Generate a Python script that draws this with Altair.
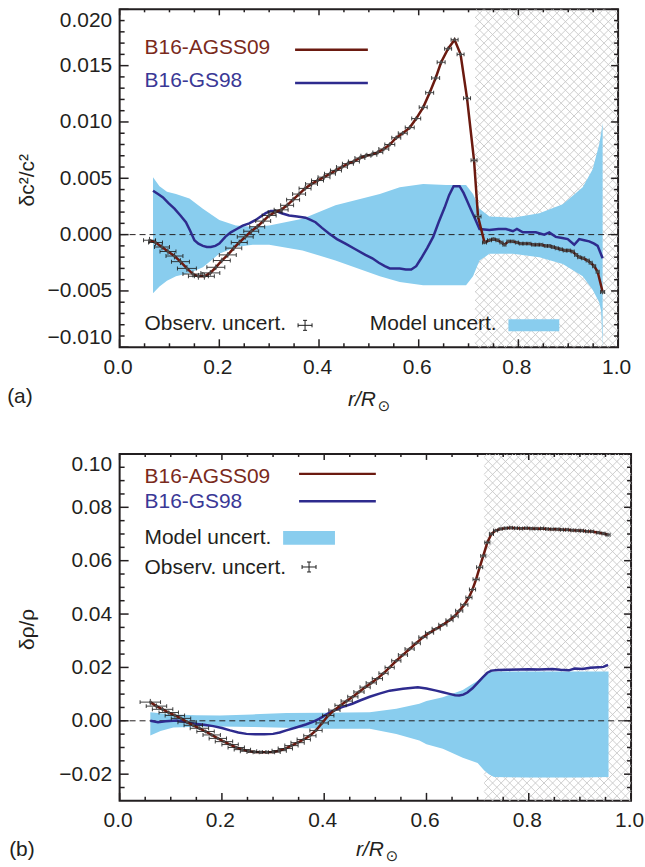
import altair as alt
import numpy as np
import pandas as pd

FONT = "Liberation Sans"
INK = "#231f20"
RED = "#6b1a10"
RED_TXT = "#7a2a1c"
BLUE = "#2e2b8e"
BLUE_TXT = "#3a3896"
BAND = "#89cdee"
HATCH = "#c8c8c8"
BAR = "#1e1e1e"
CZ = 0.713  # base of the convective envelope, hatched beyond

# ---------------- panel (a): sound speed ----------------
a_r = [0.060, 0.072, 0.085, 0.097, 0.110, 0.122, 0.135, 0.147, 0.158, 0.170,
       0.182, 0.193, 0.205, 0.217, 0.229, 0.240, 0.252, 0.264, 0.276, 0.288,
       0.300, 0.312, 0.324, 0.336, 0.348, 0.360, 0.372, 0.385, 0.397, 0.410,
       0.422, 0.434, 0.446, 0.458, 0.470, 0.482, 0.494, 0.506, 0.518, 0.530,
       0.542, 0.555, 0.568, 0.582, 0.595, 0.609, 0.622, 0.634, 0.645, 0.659,
       0.672, 0.684, 0.697, 0.711, 0.719,
       0.732, 0.742, 0.750, 0.758, 0.766, 0.772, 0.780, 0.788, 0.797, 0.805,
       0.813, 0.822, 0.830, 0.838, 0.846, 0.855, 0.862, 0.869, 0.877, 0.885,
       0.893, 0.901, 0.909, 0.916, 0.922, 0.930, 0.939, 0.945, 0.952, 0.959,
       0.969]
a_agss = [-0.0005, -0.0007, -0.0011, -0.0015, -0.0019, -0.0024, -0.0030, -0.0035, -0.0037, -0.0037,
          -0.0034, -0.0029, -0.0023, -0.0018, -0.0012, -0.0007, -0.0002, 0.0003, 0.0007, 0.0012,
          0.0017, 0.0020, 0.0022, 0.0026, 0.0031, 0.0036, 0.0041, 0.0045, 0.0048, 0.0051,
          0.0054, 0.0057, 0.0060, 0.0063, 0.0065, 0.0068, 0.0070, 0.0071, 0.0073, 0.0076,
          0.0080, 0.0086, 0.0090, 0.0095, 0.0103, 0.0113, 0.0126, 0.0139, 0.0153, 0.0165,
          0.0173, 0.0160, 0.0121, 0.0066, 0.0016,
          -0.0007, -0.0005, -0.0004, -0.0005, -0.0007, -0.0009, -0.0006, -0.0006, -0.0007, -0.0008,
          -0.0008, -0.0008, -0.0009, -0.0009, -0.0009, -0.0010, -0.0010, -0.0011, -0.0012, -0.0013,
          -0.0014, -0.0014, -0.0015, -0.0018, -0.0020, -0.0021, -0.0023, -0.0025, -0.0028, -0.0033,
          -0.0051]
a_xerr = [0.012, 0.014, 0.015, 0.016, 0.017, 0.018, 0.019, 0.020, 0.020, 0.020,
          0.019, 0.018, 0.017, 0.017, 0.016, 0.016, 0.016, 0.015, 0.015, 0.015,
          0.014, 0.014, 0.014, 0.013, 0.013, 0.013, 0.012, 0.012, 0.012, 0.012,
          0.011, 0.011, 0.011, 0.011, 0.011, 0.010, 0.010, 0.010, 0.010, 0.010,
          0.010, 0.009, 0.009, 0.009, 0.009, 0.008, 0.008, 0.008, 0.008, 0.007,
          0.007, 0.007, 0.007, 0.006, 0.006,
          0.004, 0.004, 0.003, 0.003, 0.003, 0.003, 0.003, 0.003, 0.003, 0.003,
          0.003, 0.003, 0.003, 0.003, 0.003, 0.003, 0.003, 0.003, 0.003, 0.003,
          0.003, 0.003, 0.003, 0.003, 0.003, 0.003, 0.003, 0.003, 0.003, 0.003,
          0.004]
a_yerr = [0.0003, 0.0003, 0.0003, 0.0003, 0.0003, 0.0003, 0.0003, 0.0003, 0.0003, 0.0003,
          0.00025, 0.00025, 0.00025, 0.00025, 0.00025, 0.00025, 0.00025, 0.00025, 0.00025, 0.00025,
          0.00025, 0.00025, 0.00025, 0.00025, 0.00025, 0.00025, 0.00025, 0.00025, 0.00025, 0.00025,
          0.0002, 0.0002, 0.0002, 0.0002, 0.0002, 0.0002, 0.0002, 0.0002, 0.0002, 0.0002,
          0.0002, 0.0002, 0.0002, 0.0002, 0.0002, 0.0002, 0.0002, 0.0002, 0.0002, 0.0002,
          0.0002, 0.0002, 0.0002, 0.0002, 0.0002,
          0.00015, 0.00015, 0.00015, 0.00015, 0.00015, 0.00015, 0.00015, 0.00015, 0.00015, 0.00015,
          0.00015, 0.00015, 0.00015, 0.00015, 0.00015, 0.00015, 0.00015, 0.00015, 0.00015, 0.00015,
          0.00015, 0.00015, 0.00015, 0.00015, 0.00015, 0.00015, 0.00015, 0.00015, 0.00015, 0.00015,
          0.0002]

a_gs_r = [0.067, 0.077, 0.087, 0.098, 0.110, 0.122, 0.133, 0.142, 0.150, 0.158,
          0.167, 0.175, 0.183, 0.192, 0.200, 0.212, 0.223, 0.235, 0.247, 0.260,
          0.273, 0.283, 0.293, 0.303, 0.313, 0.325, 0.340, 0.356, 0.373, 0.383,
          0.393, 0.406, 0.420, 0.436, 0.453, 0.473, 0.493, 0.507, 0.520, 0.532,
          0.542, 0.552, 0.562, 0.574, 0.585, 0.595, 0.605, 0.617, 0.629, 0.640,
          0.652, 0.661, 0.670, 0.682, 0.690, 0.697, 0.704, 0.711, 0.722, 0.742,
          0.760, 0.775, 0.789, 0.797, 0.809, 0.822, 0.835, 0.852, 0.862, 0.875,
          0.888, 0.899, 0.912, 0.922, 0.932, 0.942, 0.952, 0.959, 0.969]
a_gs = [0.0039, 0.0036, 0.0033, 0.0028, 0.0023, 0.0017, 0.0011, 0.0003, -0.0005, -0.0008,
        -0.0010, -0.0011, -0.0011, -0.0010, -0.0008, -0.0002, 0.0002, 0.0005, 0.0008, 0.0010,
        0.0013, 0.0016, 0.0019, 0.0021, 0.0021, 0.0019, 0.0017, 0.0016, 0.0015, 0.0013,
        0.0011, 0.0006, 0.0001, -0.0004, -0.0008, -0.0013, -0.0018, -0.0021, -0.0025, -0.0028,
        -0.0030, -0.0030, -0.0030, -0.0031, -0.0031, -0.0028, -0.0021, -0.0012, -0.0002, 0.0011,
        0.0024, 0.0035, 0.0043, 0.0043, 0.0037, 0.0030, 0.0023, 0.0016, 0.0005, 0.0004,
        0.0005, 0.0005, 0.0003, 0.0005, 0.0002, 0.0002, 0.0002, 0.0000, 0.0002, -0.0002,
        -0.0003, -0.0004, -0.0009, -0.0004, -0.0005, -0.0006, -0.0008, -0.0010, -0.0021]

a_band_r = [0.067, 0.080, 0.095, 0.113, 0.140, 0.167, 0.200, 0.233, 0.267, 0.300,
            0.367, 0.433, 0.522, 0.562, 0.609, 0.655, 0.695, 0.709, 0.722, 0.742,
            0.789, 0.842, 0.889, 0.929, 0.949, 0.962, 0.966, 0.969]
a_band_hi = [0.0051, 0.0043, 0.0038, 0.0036, 0.0032, 0.0023, 0.0013, 0.0008, 0.0007, 0.0008,
             0.0014, 0.0026, 0.0036, 0.0042, 0.0045, 0.0044, 0.0044, 0.0036, 0.0023, 0.0016,
             0.0015, 0.0019, 0.0027, 0.0042, 0.0058, 0.0080, 0.0090, 0.0099]
a_band_lo = [-0.0052, -0.0046, -0.0041, -0.0037, -0.0034, -0.0029, -0.0017, -0.0011, -0.0009, -0.0009,
             -0.0014, -0.0023, -0.0037, -0.0042, -0.0045, -0.0045, -0.0045, -0.0037, -0.0023, -0.0017,
             -0.0017, -0.0020, -0.0026, -0.0037, -0.0049, -0.0060, -0.0068, -0.0100]

# ---------------- panel (b): density ----------------
b_r = [0.060, 0.072, 0.084, 0.096, 0.108, 0.120, 0.132, 0.144, 0.156, 0.168,
       0.180, 0.192, 0.204, 0.216, 0.228, 0.240, 0.252, 0.264, 0.276, 0.288,
       0.300, 0.312, 0.324, 0.336, 0.348, 0.360, 0.372, 0.384, 0.396, 0.408,
       0.420, 0.432, 0.444, 0.456, 0.468, 0.480, 0.492, 0.504, 0.516, 0.528,
       0.541, 0.554, 0.567, 0.580, 0.593, 0.606, 0.619, 0.632, 0.645, 0.655,
       0.664, 0.674, 0.683, 0.690, 0.697, 0.704, 0.711, 0.719, 0.727, 0.735,
       0.745, 0.755, 0.765, 0.775, 0.785, 0.795, 0.805, 0.815, 0.826, 0.836,
       0.846, 0.856, 0.865, 0.875, 0.885, 0.895, 0.904, 0.914, 0.924, 0.936,
       0.946, 0.955]
b_agss = [0.0070, 0.0055, 0.0043, 0.0031, 0.0020, 0.0009, -0.0005, -0.0017, -0.0028, -0.0040,
          -0.0053, -0.0066, -0.0078, -0.0089, -0.0100, -0.0108, -0.0114, -0.0117, -0.0118, -0.0118,
          -0.0117, -0.0112, -0.0104, -0.0093, -0.0082, -0.0070, -0.0056, -0.0036, -0.0008, 0.0020,
          0.0040, 0.0058, 0.0074, 0.0090, 0.0108, 0.0126, 0.0142, 0.0158, 0.0178, 0.0200,
          0.0225, 0.0247, 0.0269, 0.0291, 0.0313, 0.0330, 0.0345, 0.0360, 0.0377, 0.0392,
          0.0412, 0.0435, 0.0462, 0.0492, 0.0530, 0.0575, 0.0618, 0.0668, 0.0700, 0.0713,
          0.0719, 0.0722, 0.0723, 0.0722, 0.0721, 0.0722, 0.0721, 0.0720, 0.0721, 0.0719,
          0.0718, 0.0718, 0.0716, 0.0716, 0.0714, 0.0713, 0.0712, 0.0710, 0.0709, 0.0705,
          0.0702, 0.0697]
b_xerr = [0.020, 0.020, 0.020, 0.019, 0.019, 0.019, 0.018, 0.018, 0.018, 0.017,
          0.017, 0.017, 0.017, 0.016, 0.016, 0.016, 0.016, 0.015, 0.015, 0.015,
          0.014, 0.014, 0.014, 0.013, 0.013, 0.013, 0.012, 0.012, 0.012, 0.011,
          0.011, 0.011, 0.011, 0.010, 0.010, 0.010, 0.010, 0.010, 0.009, 0.009,
          0.009, 0.009, 0.009, 0.008, 0.008, 0.008, 0.008, 0.008, 0.007, 0.007,
          0.007, 0.007, 0.006, 0.006, 0.006, 0.006, 0.005, 0.005, 0.004, 0.004,
          0.003, 0.003, 0.003, 0.003, 0.003, 0.003, 0.003, 0.003, 0.003, 0.003,
          0.003, 0.003, 0.003, 0.003, 0.003, 0.003, 0.003, 0.003, 0.003, 0.003,
          0.003, 0.004]
b_yerr = [0.0012, 0.0010, 0.0009, 0.0008, 0.0008, 0.0007, 0.0007, 0.0007, 0.0007, 0.0007,
          0.0006, 0.0006, 0.0006, 0.0006, 0.0006, 0.0006, 0.0006, 0.0006, 0.0006, 0.0006,
          0.0006, 0.0006, 0.0006, 0.0006, 0.0006, 0.0006, 0.0006, 0.0006, 0.0006, 0.0006,
          0.0006, 0.0006, 0.0006, 0.0006, 0.0006, 0.0006, 0.0006, 0.0006, 0.0006, 0.0006,
          0.0006, 0.0006, 0.0006, 0.0006, 0.0006, 0.0006, 0.0006, 0.0006, 0.0006, 0.0006,
          0.0006, 0.0006, 0.0006, 0.0006, 0.0006, 0.0006, 0.0006, 0.0006, 0.0006, 0.0006,
          0.0005, 0.0005, 0.0005, 0.0005, 0.0005, 0.0005, 0.0005, 0.0005, 0.0005, 0.0005,
          0.0005, 0.0005, 0.0005, 0.0005, 0.0005, 0.0005, 0.0005, 0.0005, 0.0005, 0.0006,
          0.0006, 0.0008]

b_gs_r = [0.060, 0.075, 0.090, 0.112, 0.130, 0.145, 0.165, 0.183, 0.200, 0.216,
          0.232, 0.248, 0.265, 0.283, 0.300, 0.313, 0.326, 0.345, 0.364, 0.378,
          0.390, 0.403, 0.416, 0.435, 0.455, 0.470, 0.489, 0.508, 0.528, 0.554,
          0.583, 0.600, 0.619, 0.632, 0.645, 0.656, 0.664, 0.672, 0.680, 0.690,
          0.700, 0.710, 0.719, 0.727, 0.740, 0.760, 0.781, 0.800, 0.820, 0.846,
          0.862, 0.878, 0.890, 0.905, 0.920, 0.936, 0.946, 0.955]
b_gs = [0.0000, -0.0005, -0.0002, 0.0001, -0.0005, -0.0011, -0.0015, -0.0020, -0.0027, -0.0036,
        -0.0044, -0.0049, -0.0050, -0.0050, -0.0049, -0.0044, -0.0036, -0.0025, -0.0014, -0.0004,
        0.0007, 0.0022, 0.0036, 0.0051, 0.0064, 0.0076, 0.0090, 0.0102, 0.0113, 0.0120,
        0.0126, 0.0121, 0.0113, 0.0107, 0.0101, 0.0096, 0.0095, 0.0098, 0.0106, 0.0122,
        0.0142, 0.0163, 0.0180, 0.0188, 0.0190, 0.0191, 0.0192, 0.0193, 0.0192, 0.0194,
        0.0191, 0.0189, 0.0196, 0.0194, 0.0199, 0.0201, 0.0202, 0.0210]

b_band_r = [0.060, 0.080, 0.105, 0.150, 0.196, 0.260, 0.326, 0.400, 0.489, 0.541,
            0.586, 0.600, 0.632, 0.671, 0.700, 0.713, 0.722, 0.732, 0.800, 0.900,
            0.956]
b_band_hi = [0.0032, 0.0028, 0.0024, 0.0021, 0.0020, 0.0024, 0.0029, 0.0030, 0.0032, 0.0045,
             0.0064, 0.0074, 0.0088, 0.0115, 0.0150, 0.0172, 0.0185, 0.0185, 0.0185, 0.0185,
             0.0185]
b_band_lo = [-0.0055, -0.0038, -0.0025, -0.0022, -0.0021, -0.0023, -0.0026, -0.0030, -0.0030, -0.0049,
             -0.0074, -0.0088, -0.0105, -0.0138, -0.0158, -0.0186, -0.0200, -0.0211, -0.0212, -0.0212,
             -0.0211]

for a, b in [(a_r, a_agss), (a_r, a_xerr), (a_r, a_yerr), (a_gs_r, a_gs),
             (a_band_r, a_band_hi), (a_band_r, a_band_lo), (b_r, b_agss), (b_r, b_xerr),
             (b_r, b_yerr), (b_gs_r, b_gs), (b_band_r, b_band_hi), (b_band_r, b_band_lo)]:
    assert len(a) == len(b), (len(a), len(b))

X_MAJOR = [0.0, 0.2, 0.4, 0.6, 0.8, 1.0]
X_MINOR = [0.05, 0.1, 0.15, 0.25, 0.3, 0.35, 0.45, 0.5, 0.55, 0.65, 0.7, 0.75, 0.85, 0.9, 0.95]

one = pd.DataFrame({"k": [0]})


def hatch_frame(W, H, ydom, step=8.6):
    """Cross-hatch segments covering r >= CZ, expressed in data units."""
    xp0 = CZ * W
    rows = []
    for c in np.arange(-W - H, W + H + step, step):
        lo, hi = max(xp0, -c), min(W, H - c)          # y = x + c
        if hi > lo:
            rows.append((lo, lo + c, hi, hi + c))
        lo, hi = max(xp0, c - H), min(W, c)           # y = -x + c
        if hi > lo:
            rows.append((lo, c - lo, hi, c - hi))
    d = pd.DataFrame(rows, columns=["px1", "py1", "px2", "py2"])
    y0, y1 = ydom
    return pd.DataFrame({
        "x1": d.px1 / W, "x2": d.px2 / W,
        "y1": y1 - d.py1 / H * (y1 - y0), "y2": y1 - d.py2 / H * (y1 - y0),
    })


def panel(W, H, ydom, ymajor, yminor, yfmt, r, agss, xerr, yerr, gs_r, gs,
          band_r, band_hi, band_lo, legend, ytitle, tag, tag_xy, rr_xy):
    xs = alt.Scale(domain=[0, 1], nice=False, zero=False)
    ys = alt.Scale(domain=ydom, nice=False, zero=False)
    xax = alt.Axis(values=X_MAJOR, format=".1f", title=None, ticks=False, domain=False,
                   grid=False, labelFont=FONT, labelFontSize=21, labelColor=INK,
                   labelPadding=9, labelOffset=-2, labelFlush=False, labelOverlap=False)
    yax = alt.Axis(values=ymajor, format=yfmt, title=None, ticks=False, domain=False,
                   grid=False, labelFont=FONT, labelFontSize=21, labelColor=INK,
                   labelPadding=8, labelFlush=True, labelOverlap=False)

    def X(f):
        return alt.X(f, type="quantitative", scale=xs, axis=xax)

    def Y(f):
        return alt.Y(f, type="quantitative", scale=ys, axis=yax)

    layers = []
    hatch = hatch_frame(W, H, ydom)
    layers.append(alt.Chart(hatch).mark_rule(color=HATCH, strokeWidth=0.9).encode(
        x=X("x1"), x2="x2", y=Y("y1"), y2="y2"))

    bdf = pd.DataFrame({"r": band_r, "hi": band_hi, "lo": band_lo})
    layers.append(alt.Chart(bdf).mark_area(color=BAND, opacity=1).encode(
        x=X("r"), y=Y("hi"), y2="lo"))

    layers.append(alt.Chart(pd.DataFrame({"z": [0.0]})).mark_rule(
        color=INK, strokeWidth=1, strokeDash=[6, 4]).encode(
        y=Y("z"), x=alt.value(0), x2=alt.value(W)))

    gdf = pd.DataFrame({"r": gs_r, "v": gs})
    layers.append(alt.Chart(gdf).mark_line(color=BLUE, strokeWidth=2.5).encode(
        x=X("r"), y=Y("v")))

    odf = pd.DataFrame({"r": r, "v": agss, "xe": xerr, "ye": yerr})
    odf["xlo"] = odf.r - odf.xe
    odf["xhi"] = odf.r + odf.xe
    odf["ylo"] = odf.v - odf.ye
    odf["yhi"] = odf.v + odf.ye
    layers.append(alt.Chart(odf).mark_line(color=RED, strokeWidth=2.5).encode(
        x=X("r"), y=Y("v")))
    layers.append(alt.Chart(odf).mark_rule(color=BAR, strokeWidth=1, opacity=0.85).encode(
        x=X("xlo"), x2="xhi", y=Y("v")))
    layers.append(alt.Chart(odf).mark_rule(color=BAR, strokeWidth=1, opacity=0.85).encode(
        x=X("r"), y=Y("ylo"), y2="yhi"))
    for f in ("xlo", "xhi"):
        layers.append(alt.Chart(odf).mark_tick(orient="vertical", size=4, thickness=1,
                                               color=BAR, opacity=0.85).encode(
            x=X(f), y=Y("v")))
    layers.append(alt.Chart(odf).mark_square(size=7, color="#555555", opacity=0.8).encode(
        x=X("r"), y=Y("v")))

    # inward-pointing ticks on all four sides
    ymaj_df = pd.DataFrame({"t": ymajor})
    ymin_df = pd.DataFrame({"t": yminor})
    xmaj_df = pd.DataFrame({"t": X_MAJOR})
    xmin_df = pd.DataFrame({"t": X_MINOR})
    tick = dict(color=INK, strokeWidth=1.5)
    layers += [
        alt.Chart(ymaj_df).mark_rule(**tick).encode(y=Y("t"), x=alt.value(0), x2=alt.value(9)),
        alt.Chart(ymin_df).mark_rule(**tick).encode(y=Y("t"), x=alt.value(0), x2=alt.value(5)),
        alt.Chart(ymaj_df).mark_rule(**tick).encode(y=Y("t"), x=alt.value(W - 7), x2=alt.value(W)),
        alt.Chart(ymin_df).mark_rule(**tick).encode(y=Y("t"), x=alt.value(W - 4), x2=alt.value(W)),
        alt.Chart(xmaj_df).mark_rule(**tick).encode(x=X("t"), y=alt.value(H), y2=alt.value(H - 8)),
        alt.Chart(xmin_df).mark_rule(**tick).encode(x=X("t"), y=alt.value(H), y2=alt.value(H - 4)),
        alt.Chart(xmaj_df).mark_rule(**tick).encode(x=X("t"), y=alt.value(0), y2=alt.value(6)),
        alt.Chart(xmin_df).mark_rule(**tick).encode(x=X("t"), y=alt.value(0), y2=alt.value(3)),
    ]

    # legend
    def label(txt, x, y, color=INK):
        return alt.Chart(one).mark_text(text=txt, font=FONT, fontSize=21, color=color,
                                        align="left", baseline="middle").encode(
            x=alt.value(x), y=alt.value(y))

    def hline(x1, x2, y, color):
        return alt.Chart(one).mark_rule(color=color, strokeWidth=2.5).encode(
            x=alt.value(x1), x2=alt.value(x2), y=alt.value(y))

    L = legend
    layers += [
        label("B16-AGSS09", L["tx"], L["agss_y"], RED_TXT),
        hline(L["lx1"], L["lx2"], L["agss_ly"], RED),
        label("B16-GS98", L["tx"], L["gs_y"], BLUE_TXT),
        hline(L["lx1"], L["lx2"], L["gs_ly"], BLUE),
        label("Observ. uncert.", L["tx"], L["obs_y"]),
        label("Model uncert.", L["mod_tx"], L["mod_y"]),
        alt.Chart(one).mark_rect(color=BAND).encode(
            x=alt.value(L["rect"][0]), x2=alt.value(L["rect"][1]),
            y=alt.value(L["rect"][2]), y2=alt.value(L["rect"][3])),
    ]
    ex, ey = L["err"]
    err = dict(color=BAR, strokeWidth=1)
    layers += [
        alt.Chart(one).mark_rule(**err).encode(x=alt.value(ex - 7), x2=alt.value(ex + 7), y=alt.value(ey)),
        alt.Chart(one).mark_rule(**err).encode(x=alt.value(ex), y=alt.value(ey - 5), y2=alt.value(ey + 5)),
        alt.Chart(one).mark_rule(**err).encode(x=alt.value(ex - 7), y=alt.value(ey - 2), y2=alt.value(ey + 2)),
        alt.Chart(one).mark_rule(**err).encode(x=alt.value(ex + 7), y=alt.value(ey - 2), y2=alt.value(ey + 2)),
        alt.Chart(one).mark_rule(**err).encode(x=alt.value(ex - 2), x2=alt.value(ex + 2), y=alt.value(ey - 5)),
        alt.Chart(one).mark_rule(**err).encode(x=alt.value(ex - 2), x2=alt.value(ex + 2), y=alt.value(ey + 5)),
    ]

    # axis titles and panel tag
    layers += [
        alt.Chart(one).mark_text(text=ytitle, font=FONT, fontSize=21, color=INK, angle=270,
                                 align="center", baseline="middle").encode(
            x=alt.value(-92), y=alt.value(H / 2 + 2)),
        alt.Chart(one).mark_text(text=tag, font=FONT, fontSize=21, color=INK,
                                 align="center", baseline="middle").encode(
            x=alt.value(tag_xy[0]), y=alt.value(tag_xy[1])),
        alt.Chart(one).mark_text(text="r/R", font=FONT, fontSize=21, fontStyle="italic",
                                 color=INK, align="left", baseline="middle").encode(
            x=alt.value(rr_xy[0]), y=alt.value(rr_xy[1])),
        alt.Chart(one).mark_text(text="\u2299", font="DejaVu Sans", fontSize=15, color=INK,
                                 align="left", baseline="middle").encode(
            x=alt.value(rr_xy[0] + 30), y=alt.value(rr_xy[1] + 6)),
    ]
    return alt.layer(*layers).properties(width=W, height=H)


WA, HA = 500, 339
top = panel(
    WA, HA, [-0.010, 0.020],
    [-0.010, -0.005, 0.000, 0.005, 0.010, 0.015, 0.020],
    [round(v, 3) for v in np.arange(-0.009, 0.020, 0.001) if abs(round(v * 1000)) % 5 != 0],
    ".3f", a_r, a_agss, a_xerr, a_yerr, a_gs_r, a_gs, a_band_r, a_band_hi, a_band_lo,
    dict(tx=25, agss_y=39, gs_y=72, lx1=176, lx2=249, agss_ly=40.5, gs_ly=74,
         obs_y=316, mod_tx=251, mod_y=316, rect=(390, 441, 311, 323), err=(186, 317)),
    "\u03b4c\u00b2/c\u00b2", "(a)", (-100, HA + 50), (229, HA + 53),
)

WB, HB = 513, 348
bottom = panel(
    WB, HB, [-0.03, 0.10],
    [-0.02, 0.00, 0.02, 0.04, 0.06, 0.08, 0.10],
    [round(v, 3) for v in np.arange(-0.025, 0.10, 0.005) if abs(round(v * 1000)) % 20 != 0],
    ".2f", b_r, b_agss, b_xerr, b_yerr, b_gs_r, b_gs, b_band_r, b_band_hi, b_band_lo,
    dict(tx=25, agss_y=23, gs_y=48.4, lx1=180, lx2=257, agss_ly=20, gs_ly=47.4,
         obs_y=114, mod_tx=25, mod_y=84, rect=(164, 216, 77.4, 91), err=(190, 113.4)),
    "\u03b4\u03c1/\u03c1", "(b)", (-98, HB + 49), (237, HB + 49),
)

chart = alt.vconcat(top, bottom, spacing=37).properties(
    padding={"left": 6, "top": 6, "right": 0, "bottom": 0}
).configure_view(stroke=INK, strokeWidth=2)

chart.save("out.html", embed_options={"renderer": "svg", "actions": False})
